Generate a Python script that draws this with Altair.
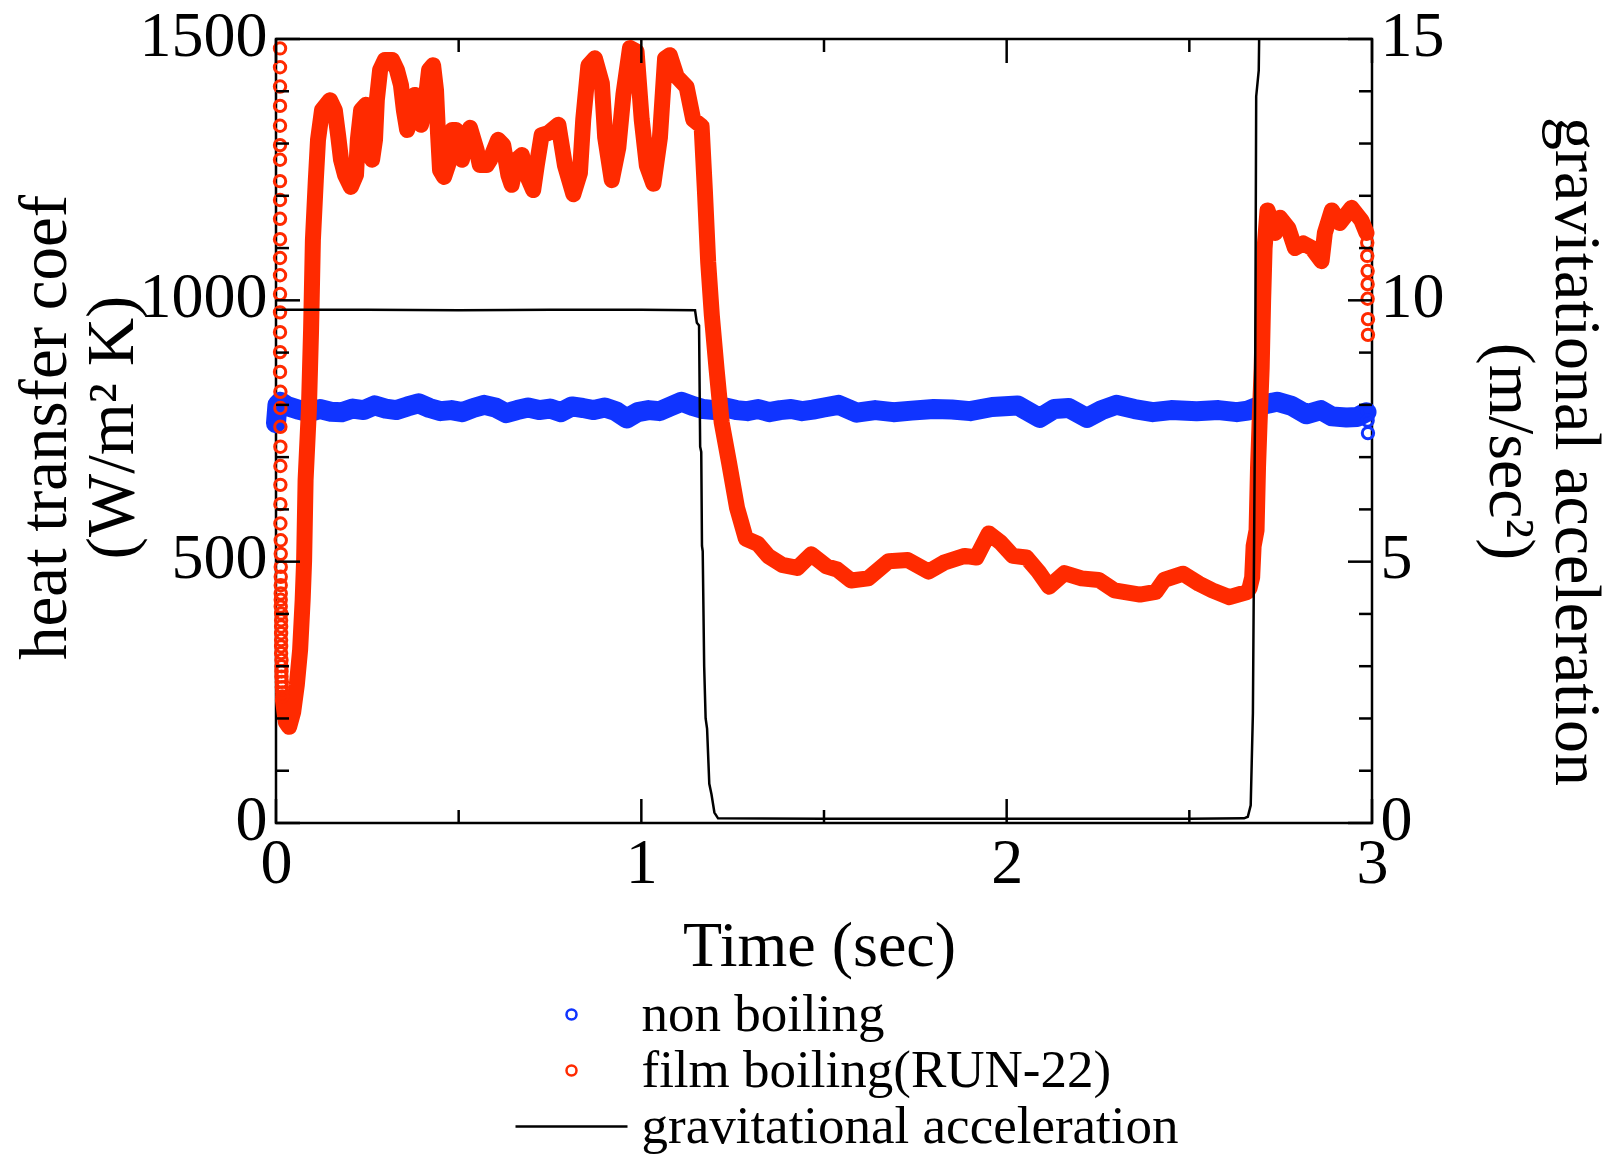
import altair as alt
import pandas as pd

FONT = "Liberation Serif"
BLUE = "#1034ff"
RED = "#ff2a00"

SERIES = ["non boiling", "film boiling(RUN-22)", "gravitational acceleration"]

# ---- non boiling (heat transfer coef, W/m2K) ----
nb_t = [0.000, 0.004, 0.012, 0.03, 0.06, 0.09, 0.12, 0.15, 0.18, 0.21, 0.24, 0.27, 0.30, 0.33,
        0.36, 0.39, 0.42, 0.45, 0.48, 0.51, 0.54, 0.57, 0.60, 0.63, 0.66, 0.69, 0.72, 0.75,
        0.78, 0.81, 0.84, 0.87, 0.90, 0.93, 0.96, 0.99, 1.02, 1.05, 1.08, 1.11, 1.14, 1.17,
        1.20, 1.23, 1.26, 1.29, 1.32, 1.35, 1.38, 1.41, 1.44, 1.47, 1.50, 1.54, 1.59, 1.64,
        1.69, 1.74, 1.80, 1.85, 1.90, 1.96, 2.03, 2.09, 2.13, 2.17, 2.22, 2.26, 2.30, 2.35,
        2.40, 2.45, 2.52, 2.58, 2.63, 2.66, 2.70, 2.74, 2.78, 2.82, 2.86, 2.89, 2.93, 2.96,
        2.985]
nb_h = [765, 800, 806, 798, 791, 786, 792, 787, 786, 793, 790, 799, 793, 790,
        797, 803, 794, 788, 790, 786, 794, 800, 795, 784, 790, 795, 790, 793,
        786, 797, 794, 790, 795, 788, 774, 786, 790, 788, 797, 806, 798, 792,
        790, 795, 790, 788, 792, 786, 790, 792, 788, 791, 795, 800, 785, 790,
        786, 789, 792, 791, 788, 796, 799, 775, 792, 794, 775, 790, 800, 792,
        786, 790, 788, 790, 786, 789, 800, 806, 798, 782, 790, 778, 776, 777,
        786]

# ---- film boiling (RUN-22), continuous band ----
fb_t = [0.019, 0.027, 0.036, 0.047, 0.057, 0.066, 0.073, 0.077, 0.081, 0.090, 0.096, 0.101,
        0.109, 0.115, 0.126, 0.148, 0.161, 0.170, 0.178, 0.189, 0.205, 0.219, 0.224, 0.233,
        0.246, 0.257, 0.263, 0.271, 0.276, 0.285, 0.298, 0.318, 0.331, 0.342, 0.350, 0.359,
        0.370, 0.380, 0.389, 0.397, 0.408, 0.419, 0.430, 0.438, 0.443, 0.449, 0.460, 0.471,
        0.482, 0.493, 0.501, 0.509, 0.520, 0.531, 0.549, 0.558, 0.577, 0.586, 0.608, 0.622,
        0.636, 0.645, 0.659, 0.673, 0.686, 0.704, 0.714, 0.727, 0.745, 0.773, 0.791, 0.814,
        0.832, 0.841, 0.855, 0.873, 0.892, 0.901, 0.919, 0.937, 0.951, 0.969, 0.987, 1.001,
        1.015, 1.033, 1.051, 1.065, 1.078, 1.097, 1.124, 1.142, 1.165, 1.174, 1.183, 1.193,
        1.206, 1.220, 1.240, 1.262, 1.286, 1.319, 1.347, 1.385, 1.427, 1.465, 1.507, 1.536,
        1.574, 1.621, 1.677, 1.729, 1.786, 1.828, 1.885, 1.917, 1.951, 1.983, 2.017, 2.054,
        2.087, 2.116, 2.158, 2.205, 2.252, 2.295, 2.365, 2.408, 2.431, 2.483, 2.526, 2.563,
        2.610, 2.658, 2.665, 2.672, 2.676, 2.684, 2.688, 2.692, 2.698, 2.702, 2.706, 2.714,
        2.735, 2.748, 2.771, 2.789, 2.812, 2.835, 2.862, 2.871, 2.890, 2.912, 2.944, 2.971,
        2.985]
fb_h = [235, 193, 184, 212, 264, 331, 427, 503, 656, 790, 943, 1115,
        1230, 1307, 1364, 1383, 1364, 1316, 1269, 1240, 1217, 1240, 1307, 1364,
        1374, 1335, 1269, 1307, 1383, 1441, 1460, 1460, 1441, 1412, 1364, 1326,
        1355, 1393, 1355, 1336, 1374, 1441, 1450, 1402, 1326, 1249, 1236, 1259,
        1326, 1326, 1288, 1269, 1307, 1330, 1288, 1259, 1259, 1269, 1307, 1297,
        1240, 1221, 1269, 1278, 1240, 1211, 1259, 1316, 1320, 1336, 1258, 1203,
        1244, 1346, 1449, 1463, 1415, 1312, 1230, 1292, 1394, 1483, 1476, 1346,
        1258, 1223, 1312, 1463, 1469, 1428, 1408, 1346, 1333, 1210, 1073, 971,
        868, 766, 690, 603, 544, 534, 511, 494, 488, 514, 491, 485,
        464, 468, 501, 503, 481, 498, 511, 508, 554, 537, 511, 508,
        481, 452, 478, 468, 465, 445, 437, 442, 465, 477, 458, 445,
        432, 442, 450, 470, 530, 560, 680, 760, 870, 1000, 1100, 1172,
        1129, 1158, 1138, 1100, 1109, 1100, 1075, 1129, 1172, 1148, 1177, 1153,
        1129]

# ---- separate open circles (start transient of film boiling, end points) ----
fbp_t = [0.011, 0.011, 0.011, 0.011, 0.011, 0.011, 0.011, 0.011, 0.011, 0.011, 0.011, 0.011,
         0.011, 0.011, 0.011, 0.011, 0.011, 0.011, 0.012, 0.012, 0.012, 0.012, 0.012, 0.012,
         0.012, 0.012, 0.013, 0.013, 0.013, 0.013, 0.013, 0.013, 0.013, 0.013, 0.014, 0.014,
         0.014, 0.014, 0.014, 0.014, 0.014, 0.015, 0.015, 0.015, 0.015, 0.016, 0.016, 0.017,
         0.017,
         2.987, 2.987, 2.988, 2.988, 2.988, 2.989, 2.989]
fbp_h = [1482, 1446, 1409, 1372, 1334, 1297, 1269, 1228, 1192, 1156, 1117, 1081,
         1048, 1012, 977, 939, 901, 863, 825, 794, 758, 720, 683, 647,
         610, 573, 541, 515, 490, 471, 455, 439, 427, 414, 401, 388,
         376, 363, 350, 338, 325, 312, 300, 290, 280, 270, 260, 250,
         242,
         1110, 1085, 1056, 1031, 1003, 964, 934]
nbp_t = [2.987, 2.988, 2.989]
nbp_h = [790, 770, 746]

# ---- gravitational acceleration (m/sec^2) ----
g_t = [0.000, 0.25, 0.50, 0.75, 1.00, 1.147, 1.152, 1.158, 1.161, 1.164, 1.166, 1.168,
       1.172, 1.176, 1.180, 1.186, 1.192, 1.200, 1.210, 1.50, 2.00, 2.50, 2.650, 2.660,
       2.668, 2.674, 2.680, 2.683, 2.690, 2.692, 2.695]
g_v = [9.82, 9.82, 9.81, 9.82, 9.82, 9.81, 9.57, 9.52, 7.2, 7.1, 5.3, 5.2,
       3.0, 2.0, 1.8, 0.75, 0.55, 0.2, 0.09, 0.08, 0.08, 0.08, 0.09, 0.12,
       0.34, 2.1, 8.1, 13.9, 14.4, 15.5, 18.0]

# ---- ticks ----
x_major = [0, 1, 2, 3]
x_minor = [0.5, 1.5, 2.5]
h_major = [0, 500, 1000, 1500]
h_minor = [100, 200, 300, 400, 600, 700, 800, 900, 1100, 1200, 1300, 1400]
g_major = [0, 5, 10, 15]
g_minor = [1, 2, 3, 4, 6, 7, 8, 9, 11, 12, 13, 14]

W, H = 1096, 784
MAJ, MIN = 24, 13
LINE_SYMBOL = "M-11.2,0H11.2"

nb_df = pd.DataFrame({"t": nb_t, "h": nb_h})
fb_df = pd.DataFrame({"t": fb_t, "h": fb_h})
pts_df = pd.DataFrame({
    "t": fbp_t + nbp_t,
    "h": fbp_h + nbp_h,
    "series": [SERIES[1]] * len(fbp_t) + [SERIES[0]] * len(nbp_t),
})
g_df = pd.DataFrame({"t": g_t, "g": g_v})


def xs():
    return alt.Scale(domain=[0, 3], nice=False, zero=False)


def hs():
    return alt.Scale(domain=[0, 1500], nice=False, zero=False)


def gs():
    return alt.Scale(domain=[0, 15], nice=False, zero=False)


AXIS_STYLE = dict(grid=False, domain=False, ticks=False,
                  labelFont=FONT, labelFontSize=64, labelColor="black",
                  titleFont=FONT, titleColor="black", titleFontWeight="normal")

# identical explicit x axis given to every layer so the shared axis merges cleanly
x_axis = alt.Axis(orient="bottom", values=x_major, format="d", title="Time (sec)",
                  labelPadding=8, labelFlush=False, labelOverlap=False,
                  titleFontSize=64, titleX=543, titleY=142,
                  titleBaseline="alphabetic", titleAlign="center", **AXIS_STYLE)
h_axis = alt.Axis(orient="left", values=h_major, format="d", labelPadding=9, labelOffset=-3,
                  labelFlush=False, labelOverlap=False,
                  title=["heat transfer coef", "(W/m\u00b2 K)"], titleFontSize=67,
                  titleAngle=270, titleX=-211, titleY=388, titleBaseline="alphabetic",
                  titleAlign="center", titleLineHeight=67, **AXIS_STYLE)
g_axis = alt.Axis(orient="right", values=g_major, format="d", labelPadding=8, labelOffset=-3,
                  labelFlush=False, labelOverlap=False,
                  title=["gravitational acceleration", "(m/sec\u00b2)"], titleFontSize=66,
                  titleAngle=90, titleX=183, titleY=412, titleBaseline="alphabetic",
                  titleAlign="center", titleLineHeight=66, **AXIS_STYLE)

blue_line = alt.Chart(nb_df).mark_line(
    color=BLUE, strokeWidth=20, strokeJoin="round", strokeCap="round"
).encode(x=alt.X("t:Q", scale=xs(), axis=x_axis),
         y=alt.Y("h:Q", scale=hs(), axis=h_axis))

red_line = alt.Chart(fb_df).mark_line(
    color=RED, strokeWidth=16, strokeJoin="round", strokeCap="round"
).encode(x=alt.X("t:Q", scale=xs(), axis=x_axis),
         y=alt.Y("h:Q", scale=hs(), axis=None))

legend = alt.Legend(orient="none", legendX=269, legendY=949, title=None, padding=0,
                    labelFont=FONT, labelFontSize=53, labelColor="black", labelLimit=1000,
                    labelOffset=43.5, rowPadding=2, symbolSize=100, symbolStrokeWidth=2.5,
                    symbolOpacity=1, direction="vertical")

points = alt.Chart(pts_df).mark_point(
    filled=False, size=130, strokeWidth=3, opacity=1
).encode(
    x=alt.X("t:Q", scale=xs(), axis=x_axis),
    y=alt.Y("h:Q", scale=hs(), axis=None),
    color=alt.Color("series:N", scale=alt.Scale(domain=SERIES, range=[BLUE, RED, "black"]),
                    legend=legend),
    shape=alt.Shape("series:N", scale=alt.Scale(domain=SERIES,
                                                range=["circle", "circle", LINE_SYMBOL]),
                    legend=legend),
)


def vticks(vals, length, top):
    df = pd.DataFrame({"t": vals})
    if top:
        yy, yy2 = alt.value(0), alt.value(length)
    else:
        yy, yy2 = alt.value(H), alt.value(H - length)
    return alt.Chart(df).mark_rule(color="black", strokeWidth=2.5).encode(
        x=alt.X("t:Q", scale=xs(), axis=x_axis), y=yy, y2=yy2)


def hticks(vals, length, left, scale):
    df = pd.DataFrame({"v": vals})
    if left:
        xx, xx2 = alt.value(0), alt.value(length)
    else:
        xx, xx2 = alt.value(W), alt.value(W - length)
    return alt.Chart(df).mark_rule(color="black", strokeWidth=2.5).encode(
        y=alt.Y("v:Q", scale=scale, axis=None), x=xx, x2=xx2)


grav = alt.Chart(g_df).mark_line(color="black", strokeWidth=2.5, clip=True).encode(
    x=alt.X("t:Q", scale=xs(), axis=x_axis),
    y=alt.Y("g:Q", scale=gs(), axis=g_axis))

chart = alt.layer(
    blue_line, red_line, points,
    hticks(h_major, MAJ, True, hs()), hticks(h_minor, MIN, True, hs()),
    vticks(x_major, MAJ, True), vticks(x_minor, MIN, True),
    vticks(x_major, MAJ, False), vticks(x_minor, MIN, False),
    grav,
    hticks(g_major, MAJ, False, gs()), hticks(g_minor, MIN, False, gs()),
).resolve_scale(y="independent").properties(
    width=W, height=H,
    autosize=alt.AutoSizeParams(type="none"),
    padding={"left": 276, "top": 39, "right": 244, "bottom": 332},
    background="white",
).configure_view(
    stroke="black", strokeWidth=2.5
)

chart.save("out.html", embed_options={"renderer": "svg", "actions": False})
